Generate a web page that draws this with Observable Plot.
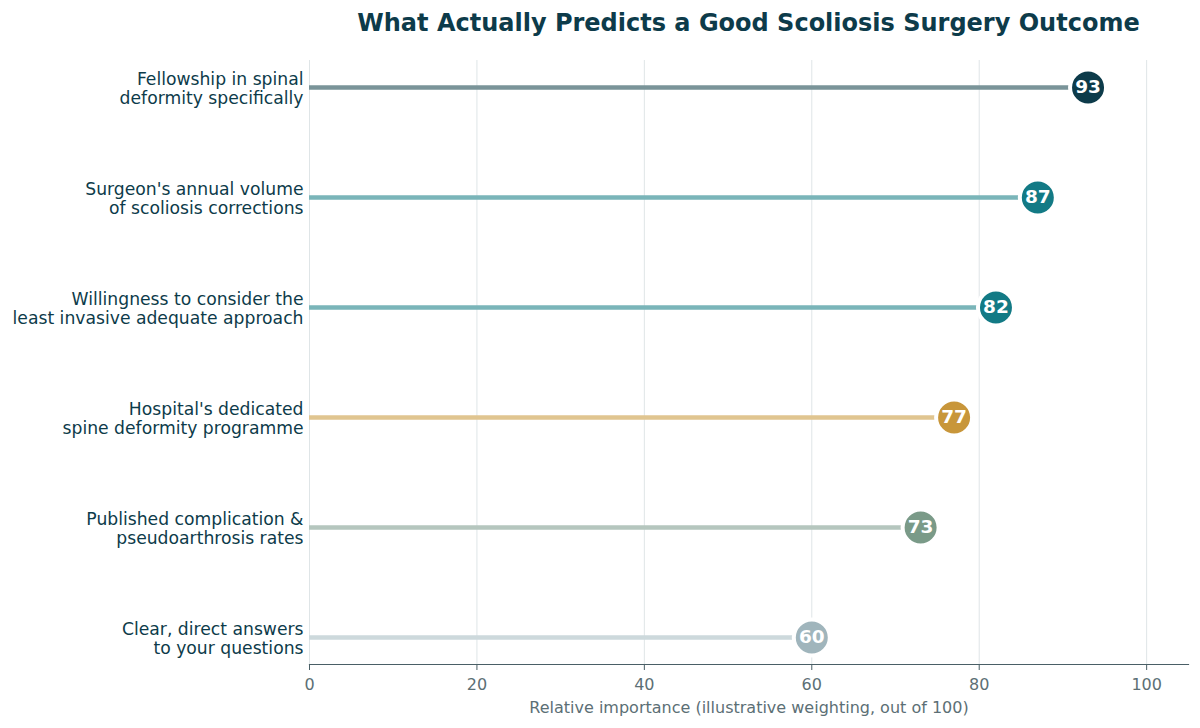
<!DOCTYPE html>
<html>
<head>
<meta charset="utf-8">
<script src="https://cdn.jsdelivr.net/npm/d3@7"></script>
<script src="https://cdn.jsdelivr.net/npm/@observablehq/plot@0.6"></script>
<style>
  body { margin: 0; background: #fff; font-family: "DejaVu Sans", sans-serif; }
  #title { margin: 0; padding: 8px 0 0 309px; width: 879px; height: 37px; text-align: center;
           font-size: 24px; font-weight: bold; color: #0d3b4a; white-space: nowrap; line-height: 30px; }
</style>
</head>
<body>
<div id="title">What Actually Predicts a Good Scoliosis Surgery Outcome</div>
<div id="chart"></div>
<script>
const factors = [
  "Fellowship in spinal\ndeformity specifically",
  "Surgeon's annual volume\nof scoliosis corrections",
  "Willingness to consider the\nleast invasive adequate approach",
  "Hospital's dedicated\nspine deformity programme",
  "Published complication &\npseudoarthrosis rates",
  "Clear, direct answers\nto your questions"
];
const scores = [93, 87, 82, 77, 73, 60];
const xTicks = [0, 20, 40, 60, 80, 100];
const xLabel = "Relative importance (illustrative weighting, out of 100)";

// styles
const dotColors = ["#0d3b4a", "#137a85", "#137a85", "#c8963a", "#7a9a88", "#a0b5bc"];
const lineColors = ["#7a9499", "#7ab5b9", "#7ab5b9", "#e0c590", "#b5c6be", "#cdd9dc"];

const data = factors.map((f, i) => ({factor: f, score: scores[i], dot: dotColors[i], line: lineColors[i]}));

const chart = Plot.plot({
  width: 1200,
  height: 683,
  marginLeft: 309,
  marginRight: 12,
  marginTop: 15,
  marginBottom: 64,
  style: {fontFamily: "DejaVu Sans, sans-serif", background: "#fff"},
  x: {domain: [0, 105], ticks: xTicks, label: null},
  y: {type: "point", domain: factors, padding: 0.245, axis: null},
  marks: [
    Plot.ruleX(xTicks, {x: d => d, stroke: "#dfe5e7", strokeWidth: 1}),
    Plot.ruleY(data, {y: "factor", x1: 0, x2: "score", stroke: "line", strokeWidth: 4.5}),
    Plot.dot(data, {x: "score", y: "factor", r: 18, fill: "dot", stroke: "#fff", strokeWidth: 4}),
    Plot.text(data, {x: "score", y: "factor", text: d => String(d.score), fill: "#fff",
      fontSize: 18.5, fontWeight: "bold"}),
    Plot.text(data, {x: 0, y: "factor", text: "factor", textAnchor: "end", dx: -6, dy: 1,
      fill: "#0d3b4a", fontSize: 17.2, lineHeight: 1.12}),
    Plot.axisX({ticks: xTicks, tickSize: 6, fontSize: 16, color: "#5c6f75", tickPadding: 8,
      label: null, stroke: "#4a5f66"}),
    Plot.frame({anchor: "bottom", stroke: "#4a5f66", strokeWidth: 1.2}),
    Plot.text([xLabel], {frameAnchor: "bottom", dy: 48, text: d => d, fill: "#5c6f75", fontSize: 16})
  ]
});
document.getElementById("chart").appendChild(chart);
</script>
</body>
</html>
